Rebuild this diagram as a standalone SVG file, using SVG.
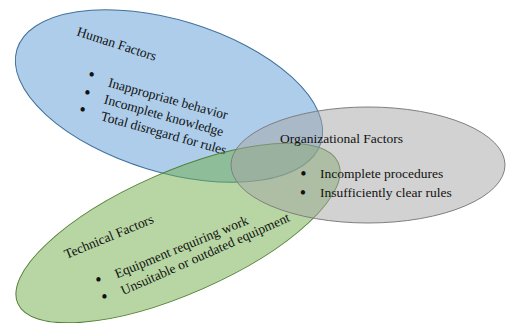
<svg xmlns="http://www.w3.org/2000/svg" width="507" height="323" viewBox="0 0 507 323">
<style>
  text { font-family: "Liberation Serif", "Times New Roman", serif; font-size: 13.5px; fill: #111; }
  .b { text-anchor: middle; font-size: 18px; }
  .shape { stroke-width: 1; }
  #human .shape { fill: #5b9bd5; fill-opacity: 0.5; stroke: #41719c; }
  #technical .shape { fill: #70ad47; fill-opacity: 0.5; stroke: #507e32; }
  #organizational .shape { fill: #a5a5a5; fill-opacity: 0.5; stroke: #7f7f7f; }
</style>
<rect width="507" height="323" fill="#ffffff"/>
<g id="human">
  <ellipse class="shape" cx="169" cy="96" rx="159" ry="76" transform="rotate(17 169 96)"/>
  <text x="76" y="35.3" transform="rotate(18 76 35.3)">Human Factors</text>
  <text class="b" x="91.7" y="81">•</text>
  <text class="b" x="87.3" y="98.7">•</text>
  <text class="b" x="82.7" y="116">•</text>
  <text x="107.5" y="86.5" transform="rotate(15.5 107.5 86.5)">Inappropriate behavior</text>
  <text x="103.3" y="103.3" transform="rotate(15.5 103.3 103.3)">Incomplete knowledge</text>
  <text x="100" y="120" transform="rotate(15.5 100 120)">Total disregard for rules</text>
</g>
<g id="technical">
  <ellipse class="shape" cx="178" cy="233" rx="175" ry="61" transform="rotate(-23.7 178 233)"/>
  <text x="66.5" y="259" transform="rotate(-22.5 66.5 259)">Technical Factors</text>
  <text class="b" x="98.3" y="285.5">•</text>
  <text class="b" x="104.5" y="303">•</text>
  <text x="117" y="278.5" transform="rotate(-22.5 117 278.5)">Equipment requiring work</text>
  <text x="123.3" y="295.3" transform="rotate(-24 123.3 295.3)">Unsuitable or outdated equipment</text>
</g>
<g id="organizational">
  <ellipse class="shape" cx="368" cy="165" rx="137" ry="58"/>
  <text x="280" y="142.7">Organizational Factors</text>
  <text class="b" x="303.3" y="180">•</text>
  <text class="b" x="303" y="199">•</text>
  <text x="320" y="177.5">Incomplete procedures</text>
  <text x="320" y="196.5">Insufficiently clear rules</text>
</g>
</svg>
